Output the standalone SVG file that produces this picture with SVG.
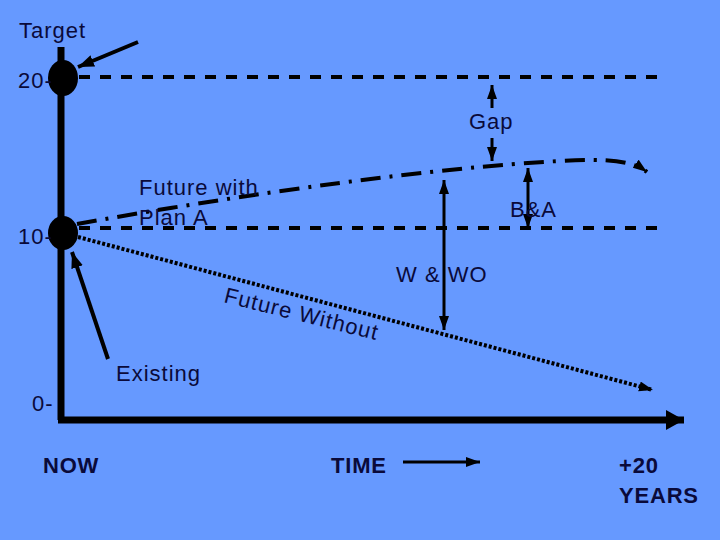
<svg xmlns="http://www.w3.org/2000/svg" width="720" height="540" viewBox="0 0 720 540">
  <defs>
    <style>
      .t { font-family: "Liberation Sans", Arial, sans-serif; font-size: 22px; letter-spacing: 1px; fill: #0a0a3a; }
      .b { font-weight: bold; letter-spacing: 0.8px; }
      .ln { stroke: #000; fill: none; }
      .dash { stroke: #000; stroke-width: 4; stroke-dasharray: 11 10; fill: none; }
    </style>
    <marker id="ah" markerUnits="userSpaceOnUse" markerWidth="18" markerHeight="14" refX="16" refY="6" orient="auto">
      <path d="M0,0 L16,6 L0,12 Z" fill="#000"/>
    </marker>
    <marker id="ahs" markerUnits="userSpaceOnUse" markerWidth="16" markerHeight="12" refX="14" refY="5" orient="auto-start-reverse">
      <path d="M0,0 L14,5 L0,10 Z" fill="#000"/>
    </marker>
    <marker id="axh" markerUnits="userSpaceOnUse" markerWidth="20" markerHeight="20" refX="18" refY="10" orient="auto">
      <path d="M0,0 L18,10 L0,20 Z" fill="#000"/>
    </marker>
  </defs>
  <rect width="720" height="540" fill="#6699ff"/>

  <g id="axes">
    <line class="ln" x1="61" y1="47" x2="61" y2="420" stroke-width="7"/>
    <line class="ln" x1="58" y1="420" x2="684" y2="420" stroke-width="7" marker-end="url(#axh)"/>
  </g>

  <g id="connectors">
    <line class="dash" x1="79" y1="77" x2="658" y2="77"/>
    <line class="dash" x1="79" y1="228" x2="658" y2="228"/>
    <path class="ln" d="M77,224 C250,193 440,167 560,161 C610,158 632,161 647,172" stroke-width="4" stroke-dasharray="20 9 3 9" marker-end="url(#ahs)"/>
    <line class="ln" x1="78" y1="237" x2="653" y2="390" stroke-width="4" stroke-dasharray="3 2" marker-end="url(#ahs)"/>
    <line class="ln" x1="138" y1="42" x2="78" y2="67" stroke-width="4" marker-end="url(#ah)"/>
    <line class="ln" x1="108" y1="359" x2="72" y2="252" stroke-width="4" marker-end="url(#ah)"/>
    <line class="ln" x1="444" y1="180" x2="444" y2="330" stroke-width="3" marker-start="url(#ahs)" marker-end="url(#ahs)"/>
    <line class="ln" x1="528" y1="168" x2="528" y2="228" stroke-width="3" marker-start="url(#ahs)" marker-end="url(#ahs)"/>
    <line class="ln" x1="492" y1="108" x2="492" y2="85" stroke-width="3" marker-end="url(#ahs)"/>
    <line class="ln" x1="492" y1="138" x2="492" y2="161" stroke-width="3" marker-end="url(#ahs)"/>
    <line class="ln" x1="403" y1="462" x2="480" y2="462" stroke-width="3" marker-end="url(#ahs)"/>
  </g>

  <g id="node-target">
    <ellipse cx="63" cy="78" rx="15" ry="18" fill="#000"/>
  </g>
  <g id="node-existing">
    <ellipse cx="63" cy="233" rx="15" ry="17" fill="#000"/>
  </g>

  <g id="labels">
    <text class="t" x="19" y="38">Target</text>
    <text class="t" x="18" y="88">20-</text>
    <text class="t" x="18" y="244">10-</text>
    <text class="t" x="32" y="411">0-</text>
    <text class="t" x="469" y="129">Gap</text>
    <text class="t" x="139" y="195">Future with</text>
    <text class="t" x="139" y="225">Plan A</text>
    <text class="t" x="510" y="217">B&amp;A</text>
    <text class="t" x="396" y="282">W &amp; WO</text>
    <text class="t" transform="translate(223,302) rotate(14)" style="font-size:22px;letter-spacing:1px">Future Without</text>
    <text class="t" x="116" y="381">Existing</text>
    <text class="t b" x="43" y="473">NOW</text>
    <text class="t b" x="331" y="473">TIME</text>
    <text class="t b" x="619" y="473">+20</text>
    <text class="t b" x="619" y="503">YEARS</text>
  </g>
</svg>
